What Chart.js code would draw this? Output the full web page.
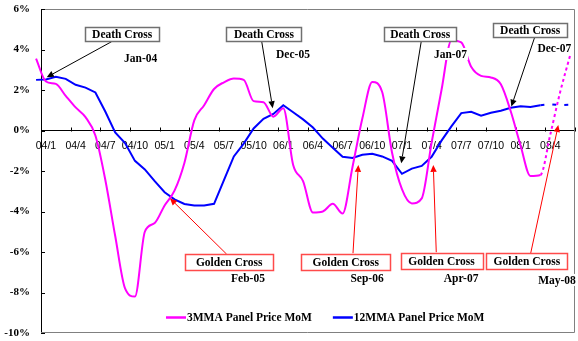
<!DOCTYPE html>
<html lang="en">
<head>
<meta charset="UTF-8">
<title>Panel Price MoM - Death Cross / Golden Cross</title>
<script src="https://cdn.jsdelivr.net/npm/chart.js@4.4.1/dist/chart.umd.min.js"></script>
<style>
    html, body { margin: 0; padding: 0; background: #ffffff; }
</style>
</head>
<body>
<canvas id="chart" width="578" height="341"></canvas>
<script>
    // month index 0 = Jan 2004, both series start one month earlier (Dec 2003)
    const firstMonth = -1;
    const forecastFrom = 50; // dotted part of the lines from here on

    const tickMonths = [0, 3, 6, 9, 12, 15, 18, 21, 24, 27, 30, 33, 36, 39, 42, 45, 48, 51];
    const tickLabels = ['04/1', '04/4', '04/7', '04/10', '05/1', '05/4', '05/7', '05/10', '06/1',
                        '06/4', '06/7', '06/10', '07/1', '07/4', '07/7', '07/10', '08/1', '08/4'];

    const mma3 = [3.55, 2.42, 2.3, 1.71, 1.14, 0.66, -0.25, -2.43, -5.2, -7.8, -8.2, -5.0, -4.57,
                  -3.7, -2.97, -1.6, 0.5, 1.25, 2.05, 2.38, 2.57, 2.5, 1.45, 1.4, 0.68, 1.1, -1.7,
                  -2.5, -4.05, -4.0, -3.62, -4.1, -1.8, 0.6, 2.4, 1.9, -1.1, -2.9, -3.6, -3.35, -0.6,
                  2.0, 4.45, 4.35, 3.15, 2.7, 2.62, 2.28, 0.95, -0.75, -2.25, -2.2, -0.2, 1.9, 3.7];

    const mma12 = [2.5, 2.52, 2.65, 2.55, 2.26, 2.12, 1.88, 0.94, -0.1, -0.62, -1.5, -1.92, -2.5,
                   -3.05, -3.4, -3.63, -3.7, -3.7, -3.62, -2.45, -1.28, -0.65, 0.1, 0.58, 0.82, 1.25,
                   0.9, 0.55, 0.15, -0.4, -0.85, -1.3, -1.36, -1.2, -1.15, -1.28, -1.5, -2.14, -1.88,
                   -1.75, -1.3, -0.5, 0.2, 0.86, 0.92, 0.73, 0.88, 0.98, 1.12, 1.2, 1.16, 1.25, 1.3,
                   1.25, 1.27];

    const seriesNames = ['3MMA Panel Price MoM', '12MMA Panel Price MoM'];
    const seriesColors = ['#ff00ff', '#0000ff'];

    // callouts, placed in data units (month index, %)
    const deathNotes = [
        { date: 'Jan-04', box: [7.71, 4.76], w: 74, tail: [6.65, 4.39], tip: [0.08, 2.63], at: [9.58, 3.58] },
        { date: 'Dec-05', box: [22.05, 4.76], w: 75, tail: [21.82, 4.39], tip: [22.93, 1.10], at: [24.98, 3.78] },
        { date: 'Jan-07', box: [37.85, 4.78], w: 72, tail: [37.96, 4.42], tip: [35.93, -1.62], at: [40.91, 3.78] },
        { date: 'Dec-07', box: [48.97, 4.95], w: 74, tail: [49.42, 4.60], tip: [47.06, 1.18], at: [51.41, 4.09] }
    ];
    const goldenNotes = [
        { date: 'Feb-05', box: [18.53, -6.51], w: 88, tail: [18.28, -6.11], tip: [12.54, -3.35], at: [20.43, -7.30] },
        { date: 'Sep-06', box: [30.32, -6.51], w: 89, tail: [31.05, -6.06], tip: [31.59, -1.70], at: [32.47, -7.30] },
        { date: 'Apr-07', box: [40.0, -6.43], w: 82, tail: [39.47, -6.01], tip: [39.17, -1.70], at: [41.98, -7.30] },
        { date: 'May-08', box: [48.63, -6.43], w: 81, tail: [49.02, -6.06], tip: [51.81, 0.27], at: [51.68, -7.38] }
    ];

    const serifBold = 'bold 11.5px "Liberation Serif", "Times New Roman", serif';

    function drawArrow(ctx, x1, y1, x2, y2, color) {
        const ang = Math.atan2(y2 - y1, x2 - x1);
        const len = 7, half = 3.2;
        const bx = x2 - len * Math.cos(ang), by = y2 - len * Math.sin(ang);
        ctx.strokeStyle = color;
        ctx.fillStyle = color;
        ctx.lineWidth = 1;
        ctx.beginPath();
        ctx.moveTo(x1, y1);
        ctx.lineTo(bx, by);
        ctx.stroke();
        ctx.beginPath();
        ctx.moveTo(x2, y2);
        ctx.lineTo(bx + half * Math.sin(ang), by - half * Math.cos(ang));
        ctx.lineTo(bx - half * Math.sin(ang), by + half * Math.cos(ang));
        ctx.closePath();
        ctx.fill();
    }

    function drawNotes(chart, notes, text, boxColor, arrowColor, boxH) {
        const { ctx, scales: { x, y } } = chart;
        const px = p => [x.getPixelForValue(p[0]), y.getPixelForValue(p[1])];
        notes.forEach(n => {
            const [tx, ty] = px(n.tail), [hx, hy] = px(n.tip);
            drawArrow(ctx, tx, ty, hx, hy, arrowColor);
        });
        ctx.font = serifBold;
        ctx.textAlign = 'center';
        ctx.textBaseline = 'middle';
        notes.forEach(n => {
            const [cx, cy] = px(n.box);
            const l = Math.round(cx - n.w / 2) + 0.5, t = Math.round(cy - boxH / 2) + 0.5;
            ctx.fillStyle = '#ffffff';
            ctx.fillRect(l, t, n.w, boxH);
            ctx.strokeStyle = boxColor;
            ctx.lineWidth = 1.5;
            ctx.strokeRect(l, t, n.w, boxH);
            ctx.fillStyle = '#000000';
            ctx.fillText(text, cx, cy + 1);

            const [dx, dy] = px(n.at);
            const dw = ctx.measureText(n.date).width;
            ctx.fillStyle = '#ffffff';
            ctx.fillRect(dx - dw / 2 - 1, dy - 6, dw + 2, 12);
            ctx.fillStyle = '#000000';
            ctx.fillText(n.date, dx, dy + 1);
        });
    }

    const decor = {
        id: 'decor',
        beforeDatasetsDraw(chart) {
            const { ctx, chartArea: a, scales: { x, y } } = chart;
            ctx.save();
            // plot area frame (left side is the black axis)
            ctx.strokeStyle = '#808080';
            ctx.lineWidth = 1;
            ctx.beginPath();
            ctx.moveTo(a.left, a.top + 0.5);
            ctx.lineTo(a.right - 0.5, a.top + 0.5);
            ctx.lineTo(a.right - 0.5, a.bottom - 0.5);
            ctx.lineTo(a.left, a.bottom - 0.5);
            ctx.stroke();
            // inside tick marks
            ctx.strokeStyle = '#000000';
            ctx.beginPath();
            y.ticks.forEach(t => {
                const py = Math.round(y.getPixelForValue(t.value)) + 0.5;
                ctx.moveTo(a.left, py);
                ctx.lineTo(a.left + 4, py);
            });
            const y0 = Math.round(y.getPixelForValue(0)) + 0.5;
            for (let k = 1; k <= 18; k++) {
                const pxk = Math.round(x.getPixelForValue(-0.5 + 3 * k)) + 0.5;
                ctx.moveTo(pxk, y0);
                ctx.lineTo(pxk, y0 - 4);
            }
            ctx.stroke();
            ctx.restore();
        },
        afterDatasetsDraw(chart) {
            const { ctx, chartArea: a, scales: { y } } = chart;
            ctx.save();
            drawNotes(chart, deathNotes, 'Death Cross', '#707070', '#000000', 14);
            drawNotes(chart, goldenNotes, 'Golden Cross', '#ff4a4a', '#ff0000', 16);

            // legend inside the plot area
            const ly = Math.round(y.getPixelForValue(-9.21)) + 0.5;
            let lx = a.left + 125;
            ctx.font = serifBold;
            ctx.textAlign = 'left';
            ctx.textBaseline = 'middle';
            seriesNames.forEach((name, i) => {
                ctx.strokeStyle = seriesColors[i];
                ctx.lineWidth = 2.5;
                ctx.beginPath();
                ctx.moveTo(lx, ly);
                ctx.lineTo(lx + 20, ly);
                ctx.stroke();
                ctx.fillStyle = '#000000';
                ctx.fillText(name, lx + 21, ly + 1);
                lx += 21 + ctx.measureText(name).width + 21;
            });
            ctx.restore();
        }
    };

    const toPoints = arr => arr.map((v, i) => ({ x: firstMonth + i, y: v }));

    new Chart(document.getElementById('chart'), {
        type: 'line',
        data: {
            datasets: [
                {
                    label: seriesNames[0],
                    data: toPoints(mma3),
                    borderColor: seriesColors[0],
                    borderWidth: 2,
                    pointRadius: 0,
                    cubicInterpolationMode: 'monotone',
                    clip: false,
                    segment: { borderDash: c => c.p0.parsed.x >= forecastFrom ? [3, 3] : undefined }
                },
                {
                    label: seriesNames[1],
                    data: toPoints(mma12),
                    borderColor: seriesColors[1],
                    borderWidth: 2,
                    pointRadius: 0,
                    tension: 0,
                    clip: false,
                    segment: { borderDash: c => c.p0.parsed.x >= forecastFrom ? [4, 8] : undefined }
                }
            ]
        },
        options: {
            responsive: false,
            animation: false,
            events: [],
            layout: { padding: { left: 0, top: 9, right: 3, bottom: 8 } },
            plugins: { legend: { display: false }, tooltip: { enabled: false } },
            scales: {
                x: {
                    type: 'linear',
                    position: { y: 0 },
                    min: -0.5,
                    max: 53.5,
                    afterBuildTicks: s => { s.ticks = tickMonths.map(v => ({ value: v })); },
                    afterFit: s => { s.paddingLeft = 0; s.paddingRight = 0; },
                    grid: { display: true, drawOnChartArea: false, drawTicks: false },
                    border: { display: true, color: '#000000', width: 1 },
                    ticks: {
                        autoSkip: false,
                        maxRotation: 0,
                        padding: 9,
                        color: '#000000',
                        font: { family: '"Liberation Sans", Arial, sans-serif', size: 10.5 },
                        callback: (v, i) => tickLabels[i]
                    }
                },
                y: {
                    min: -10,
                    max: 6,
                    afterFit: s => { s.width = 41; s.paddingTop = 0; s.paddingBottom = 0; },
                    grid: { display: true, drawOnChartArea: false, drawTicks: false },
                    border: { display: true, color: '#000000', width: 1 },
                    ticks: {
                        stepSize: 2,
                        padding: 11,
                        color: '#000000',
                        font: { family: '"Liberation Serif", "Times New Roman", serif', size: 11, weight: 'bold' },
                        callback: v => v + '%'
                    }
                }
            }
        },
        plugins: [decor]
    });
</script>
</body>
</html>
